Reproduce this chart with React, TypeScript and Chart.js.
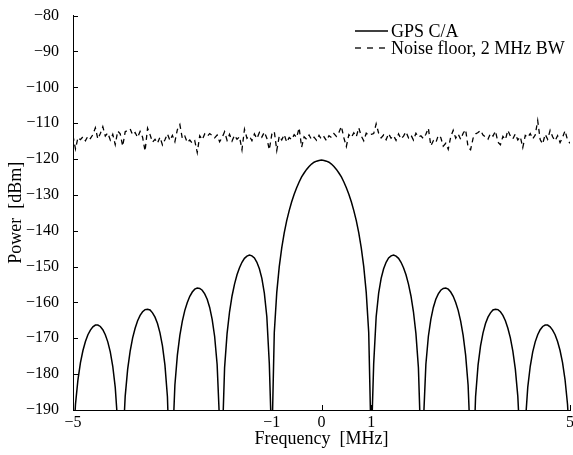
import React, { useEffect, useRef } from "react";
import { Chart, registerables } from "chart.js";

Chart.register(...registerables);

// ---------- data ----------
const freqMHz = [
  -5, -4.95, -4.9, -4.85, -4.8, -4.75, -4.7, -4.65, -4.6, -4.55,
  -4.5, -4.45, -4.4, -4.35, -4.3, -4.25, -4.2, -4.15, -4.1, -4.05,
  -4, -3.95, -3.9, -3.85, -3.8, -3.75, -3.7, -3.65, -3.6, -3.55,
  -3.5, -3.45, -3.4, -3.35, -3.3, -3.25, -3.2, -3.15, -3.1, -3.05,
  -3, -2.95, -2.9, -2.85, -2.8, -2.75, -2.7, -2.65, -2.6, -2.55,
  -2.5, -2.45, -2.4, -2.35, -2.3, -2.25, -2.2, -2.15, -2.1, -2.05,
  -2, -1.95, -1.9, -1.85, -1.8, -1.75, -1.7, -1.65, -1.6, -1.55,
  -1.5, -1.45, -1.4, -1.35, -1.3, -1.25, -1.2, -1.15, -1.1, -1.05,
  -1, -0.95, -0.9, -0.85, -0.8, -0.75, -0.7, -0.65, -0.6, -0.55,
  -0.5, -0.45, -0.4, -0.35, -0.3, -0.25, -0.2, -0.15, -0.1, -0.05,
  0,
  0.05, 0.1, 0.15, 0.2, 0.25, 0.3, 0.35, 0.4, 0.45, 0.5,
  0.55, 0.6, 0.65, 0.7, 0.75, 0.8, 0.85, 0.9, 0.95, 1,
  1.05, 1.1, 1.15, 1.2, 1.25, 1.3, 1.35, 1.4, 1.45, 1.5,
  1.55, 1.6, 1.65, 1.7, 1.75, 1.8, 1.85, 1.9, 1.95, 2,
  2.05, 2.1, 2.15, 2.2, 2.25, 2.3, 2.35, 2.4, 2.45, 2.5,
  2.55, 2.6, 2.65, 2.7, 2.75, 2.8, 2.85, 2.9, 2.95, 3,
  3.05, 3.1, 3.15, 3.2, 3.25, 3.3, 3.35, 3.4, 3.45, 3.5,
  3.55, 3.6, 3.65, 3.7, 3.75, 3.8, 3.85, 3.9, 3.95, 4,
  4.05, 4.1, 4.15, 4.2, 4.25, 4.3, 4.35, 4.4, 4.45, 4.5,
  4.55, 4.6, 4.65, 4.7, 4.75, 4.8, 4.85, 4.9, 4.95, 5,
];

const gpsPower = [
  -200.4, -188.4, -181.5, -176.8, -173.4, -170.9, -169.0, -167.7, -166.8, -166.3,
  -166.3, -166.7, -167.6, -169.0, -171.0, -173.8, -177.8, -183.7, -193.8, -224.7,
  -200.3, -186.2, -178.6, -173.6, -169.9, -167.2, -165.1, -163.6, -162.6, -162.0,
  -161.9, -162.1, -162.9, -164.1, -165.9, -168.5, -172.1, -177.5, -186.3, -207.7,
  -200.3, -183.1, -174.7, -169.2, -165.2, -162.2, -160.0, -158.3, -157.1, -156.3,
  -156.0, -156.1, -156.6, -157.6, -159.1, -161.4, -164.7, -169.5, -177.3, -193.7,
  -200.3, -178.2, -168.7, -162.6, -158.2, -154.9, -152.3, -150.3, -148.8, -147.7,
  -147.1, -146.8, -147.0, -147.6, -148.8, -150.6, -153.3, -157.4, -164.0, -177.1,
  -200.3, -168.4, -157.2, -150.0, -144.8, -140.6, -137.2, -134.4, -131.9, -129.8,
  -128.0, -126.4, -125.0, -123.9, -122.9, -122.1, -121.4, -120.9, -120.6, -120.4,
  -120.3,
  -120.4, -120.6, -120.9, -121.4, -122.1, -122.9, -123.9, -125.0, -126.4, -128.0,
  -129.8, -131.9, -134.4, -137.2, -140.6, -144.8, -150.0, -157.2, -168.4, -200.3,
  -177.1, -164.0, -157.4, -153.3, -150.6, -148.8, -147.6, -147.0, -146.8, -147.1,
  -147.7, -148.8, -150.3, -152.3, -154.9, -158.2, -162.6, -168.7, -178.2, -200.3,
  -193.7, -177.3, -169.5, -164.7, -161.4, -159.1, -157.6, -156.6, -156.1, -156.0,
  -156.3, -157.1, -158.3, -160.0, -162.2, -165.2, -169.2, -174.7, -183.1, -200.3,
  -207.7, -186.3, -177.5, -172.1, -168.5, -165.9, -164.1, -162.9, -162.1, -161.9,
  -162.0, -162.6, -163.6, -165.1, -167.2, -169.9, -173.6, -178.6, -186.2, -200.3,
  -224.7, -193.8, -183.7, -177.8, -173.8, -171.0, -169.0, -167.6, -166.7, -166.3,
  -166.3, -166.8, -167.7, -169.0, -170.9, -173.4, -176.8, -181.5, -188.4, -200.4,
];

const noisePower = [
  -113.5, -117.2, -114.0, -114.6, -113.8, -114.9, -113.6, -114.3, -113.2, -111.3,
  -114.4, -112.9, -111.0, -113.6, -112.7, -114.7, -113.1, -116.0, -112.2, -113.0,
  -116.4, -112.4, -112.0, -111.6, -113.3, -112.6, -114.0, -112.3, -113.9, -117.8,
  -111.4, -113.2, -115.3, -114.5, -115.6, -113.9, -116.1, -114.6, -113.0, -114.8,
  -113.4, -115.2, -111.8, -110.4, -114.3, -113.6, -115.4, -114.7, -115.6, -114.9,
  -118.2, -113.5, -114.6, -113.0, -113.7, -112.9, -113.4, -114.1, -113.3, -115.2,
  -114.0, -112.4, -114.8, -113.1, -115.0, -113.4, -114.5, -113.8, -117.4, -111.7,
  -114.2, -113.6, -114.9, -113.0, -114.3, -112.6, -113.9, -112.5, -114.2, -117.4,
  -113.1, -112.3, -117.6, -113.6, -114.7, -113.2, -115.3, -114.0, -114.6, -113.2,
  -114.0, -111.3, -116.7, -113.8, -114.5, -113.3, -114.6, -113.9, -114.8, -113.4,
  -114.5,
  -113.8, -114.9, -113.5, -114.0, -112.9, -113.7, -112.6, -110.9, -114.1, -116.5,
  -113.2, -114.0, -112.7, -113.8, -111.3, -113.6, -114.9, -112.8, -113.4, -113.1,
  -112.9, -110.2, -112.8, -114.1, -113.3, -114.6, -112.9, -114.2, -113.5, -114.8,
  -113.0, -114.4, -113.6, -112.4, -114.1, -113.3, -114.7, -112.8, -113.9, -113.5,
  -114.3, -113.1, -111.4, -116.3, -114.9, -115.5, -113.4, -114.0, -116.4, -115.6,
  -117.3, -113.8, -112.0, -114.2, -113.0, -114.5, -112.8, -111.8, -116.8, -117.4,
  -114.2, -113.0, -112.6, -112.0, -113.3, -113.9, -114.5, -112.9, -113.6, -112.2,
  -115.3, -116.0, -113.7, -114.6, -112.0, -113.6, -114.4, -113.0, -114.7, -113.8,
  -116.8, -113.4, -114.0, -112.9, -114.4, -113.3, -109.3, -114.6, -115.8, -113.1,
  -114.5, -112.0, -113.8, -114.9, -113.5, -115.4, -114.0, -112.1, -114.7, -115.6,
];

const xTickValues = [-5, -1, 0, 1, 5];
const yTickValues = [-190, -180, -170, -160, -150, -140, -130, -120, -110, -100, -90, -80];
const seriesLabels = ["GPS C/A", "Noise floor, 2 MHz BW"];
const xTitle = "Frequency  [MHz]";
const yTitle = "Power  [dBm]";

// ---------- styling ----------
const FONT = "'Liberation Serif', 'Times New Roman', Times, serif";
const fmt = (v: number) => (v < 0 ? "\u2212" + Math.abs(v) : String(v));

const overlayPlugin = {
  id: "overlay",
  afterDraw(chart: any) {
    const { ctx, chartArea, scales } = chart;
    const x = scales.x;
    const y = scales.y;
    ctx.save();
    ctx.strokeStyle = "#000";
    ctx.lineWidth = 1;
    ctx.beginPath();
    y.ticks.forEach((t: any) => {
      const py = Math.round(y.getPixelForValue(t.value)) + 0.5;
      ctx.moveTo(chartArea.left, py);
      ctx.lineTo(chartArea.left + 5, py);
    });
    x.ticks.forEach((t: any) => {
      const px = Math.round(x.getPixelForValue(t.value)) + 0.5;
      ctx.moveTo(px, chartArea.bottom);
      ctx.lineTo(px, chartArea.bottom - 5);
    });
    ctx.stroke();

    // legend
    const ds = chart.data.datasets;
    const lx0 = 355;
    const lx1 = 388;
    const rows = [31, 48];
    ctx.font = `18px ${FONT}`;
    ctx.fillStyle = "#000";
    ctx.textBaseline = "middle";
    ctx.textAlign = "left";
    ds.forEach((d: any, i: number) => {
      ctx.beginPath();
      ctx.lineWidth = d.borderWidth;
      ctx.setLineDash(i === 0 ? [] : [6, 6]);
      ctx.moveTo(lx0, rows[i]);
      ctx.lineTo(lx1, rows[i]);
      ctx.stroke();
      ctx.setLineDash([]);
      ctx.fillText(d.label, 391, rows[i] + 1);
    });
    ctx.restore();
  },
};

export default function App() {
  const ref = useRef<HTMLCanvasElement | null>(null);

  useEffect(() => {
    if (!ref.current) return;
    const gpsData = freqMHz.map((f, i) => ({ x: f, y: gpsPower[i] }));
    const noiseData = freqMHz.map((f, i) => ({ x: f, y: noisePower[i] }));
    const chart = new Chart(ref.current, {
      type: "line",
      data: {
        datasets: [
          {
            label: seriesLabels[0],
            data: gpsData,
            borderColor: "#000",
            borderWidth: 1.5,
            pointRadius: 0,
            tension: 0,
          },
          {
            label: seriesLabels[1],
            data: noiseData,
            borderColor: "#000",
            borderWidth: 1.3,
            borderDash: [5, 4],
            pointRadius: 0,
            tension: 0,
          },
        ],
      },
      options: {
        responsive: false,
        animation: false,
        devicePixelRatio: 1,
        parsing: false,
        normalized: true,
        layout: { padding: { top: 12, right: 10, left: 0, bottom: 0 } },
        plugins: {
          legend: { display: false },
          tooltip: { enabled: false },
        },
        scales: {
          x: {
            type: "linear",
            min: -5,
            max: 5,
            afterBuildTicks: (s: any) => {
              s.ticks = xTickValues.map((v) => ({ value: v }));
            },
            afterFit: (s: any) => {
              s.height = 45;
            },
            ticks: {
              autoSkip: false,
              maxRotation: 0,
              padding: -5,
              color: "#000",
              font: { family: FONT, size: 16 },
              callback: (v: any) => fmt(Number(v)),
            },
            grid: { display: false },
            border: { display: true, color: "#000", width: 1 },
            title: {
              display: true,
              text: xTitle,
              color: "#000",
              font: { family: FONT, size: 18 },
              padding: { top: 0, bottom: 5 },
            },
          },
          y: {
            type: "linear",
            min: -190,
            max: -80,
            afterBuildTicks: (s: any) => {
              s.ticks = yTickValues.map((v) => ({ value: v }));
            },
            afterFit: (s: any) => {
              s.width = 73;
            },
            ticks: {
              autoSkip: false,
              padding: 6,
              color: "#000",
              font: { family: FONT, size: 16 },
              callback: (v: any) => fmt(Number(v)),
            },
            grid: { display: false },
            border: { display: true, color: "#000", width: 1 },
            title: {
              display: true,
              text: yTitle,
              color: "#000",
              font: { family: FONT, size: 18 },
              padding: { top: 5, bottom: 0 },
            },
          },
        },
      },
      plugins: [overlayPlugin],
    });
    return () => chart.destroy();
  }, []);

  return (
    <div
      style={{
        position: "fixed",
        left: 0,
        top: 0,
        width: 573,
        height: 455,
        overflow: "hidden",
        background: "#fff",
      }}
    >
      <canvas ref={ref} width={580} height={455} style={{ display: "block" }} />
    </div>
  );
}
